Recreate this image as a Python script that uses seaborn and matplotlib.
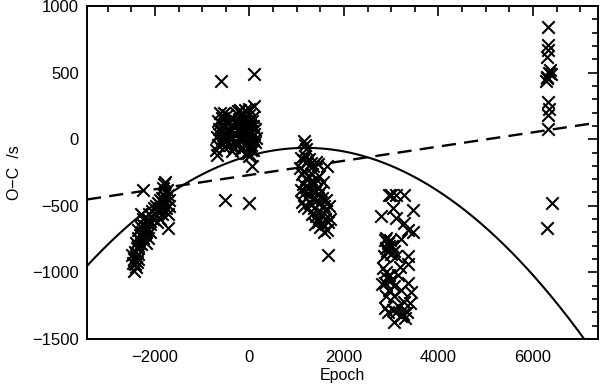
import numpy as np
import pandas as pd
import matplotlib
matplotlib.use("Agg")
import matplotlib.pyplot as plt
import seaborn as sns
from matplotlib.ticker import MultipleLocator

# ---- data ----
epoch_g1 = [-2440, -2420, -2450, -2400, -2380, -2430, -2360, -2390, -2350, -2410, -2330, -2370,
            -2300, -2320, -2280, -2350, -2260, -2300, -2240, -2270, -2220, -2200, -2250, -2180,
            -2160, -2300, -2140, -2120, -2100, -2080, -2060, -2040, -2020, -2000, -1980, -1960,
            -1940, -1920, -1900, -1880, -1860, -1840, -1820, -1800, -1780, -1760, -1740, -1720,
            -1800, -1780, -1700, -1700, -1720, -1730, -2260, -1840, -2400, -2350, -2200, -2150,
            -2100, -1960, -1900, -1850, -1760, -2480, -2460]
oc_g1 = [-990, -940, -900, -880, -920, -850, -860, -820, -800, -780, -760, -740,
         -790, -720, -700, -680, -740, -660, -680, -640, -700, -650, -600, -620,
         -680, -560, -600, -560, -640, -580, -540, -600, -520, -560, -500, -540,
         -480, -520, -460, -500, -440, -480, -420, -460, -400, -440, -380, -420,
         -340, -320, -460, -500, -560, -670, -385, -370, -960, -900, -780, -740,
         -700, -620, -600, -560, -520, -870, -930]

epoch_g2 = [-700, -680, -660, -650, -640, -620, -610, -600, -590, -580, -560, -550, -540, -520,
            -510, -500, -480, -470, -450, -440, -420, -400, -390, -370, -350, -330, -310, -300,
            -280, -260, -240, -220, -200, -190, -170, -160, -140, -130, -120, -110, -100, -90,
            -80, -70, -60, -50, -40, -30, -20, -10, 0, 10, 20, 30, 40, 50, 60, 70, 80, 90, 100,
            110, 120, -630, -250, -200, -20,
            -690, -660, -560, -430, -380, -300, -230, -150, -90, -40, 0, 40, 80, 130, -20, -120,
            -600, 100, -510, 0, 60]
oc_g2 = [-80, 20, -40, 80, 40, 120, -20, 60, 160, 0, 100, -60, 200, 40,
         140, -10, 80, 180, 20, 120, -40, 60, 160, 0, 100, -60, 40, 140,
         200, -20, 80, 20, 120, -80, 60, 180, 0, 100, -40, 160, 40, 220,
         -100, 80, 140, -20, 40, 120, -60, 180, 0, 100, -120, 60, -40, 140, 20, -80, 100, 250, 40,
         -20, 80, 200, 210, 220, -130,
         -120, 140, 30, 60, -90, -30, 150, -60, 20, -100, 60, -80, 170, 10, 230, 130,
         440, 490, -460, -480, -200]

epoch_g3 = [1160, 1180, 1200, 1100, 1140, 1180, 1220, 1260, 1300, 1350, 1400, 1440, 1650, 1080,
            1120, 1160, 1200, 1240, 1280, 1320, 1360, 1400, 1440, 1480, 1520, 1560, 1100, 1140,
            1180, 1220, 1260, 1300, 1340, 1380, 1420, 1460, 1500, 1540, 1580, 1620, 1690, 1120,
            1160, 1200, 1240, 1280, 1320, 1360, 1400, 1440, 1480, 1520, 1560, 1600, 1640, 1500,
            1440, 1380, 1580, 1660, 1660, 1620, 1700]
oc_g3 = [-10, -40, -70, -140, -160, -130, -170, -150, -180, -200, -170, -190, -200, -220,
         -260, -240, -300, -280, -320, -260, -340, -300, -360, -280, -390, -320, -380, -340,
         -400, -360, -420, -380, -440, -400, -460, -420, -480, -440, -500, -460, -500, -470,
         -500, -440, -520, -480, -560, -520, -580, -540, -600, -560, -640, -600, -680, -660,
         -620, -640, -700, -620, -870, -540, -600]

epoch_g4 = [2960, 3000, 3100, 3280, 2790, 3030, 3460, 3100, 3280, 3350, 3460, 3210, 2860, 2900,
            2940, 2980, 3020, 2880, 2920, 2960, 3000, 2840, 3060, 3100, 3350, 3350, 2820, 2880,
            2920, 2960, 3000, 2860, 3140, 3350, 3210, 3420, 2960, 3280, 3390, 2860, 3030, 3100,
            3250, 2930, 3070, 3210, 3300, 3150, 3050, 2900, 3180, 2800, 3060, 3330]
oc_g4 = [-420, -420, -420, -420, -580, -520, -530, -590, -630, -680, -700, -750, -760, -740,
         -780, -760, -800, -820, -840, -800, -860, -880, -840, -880, -880, -940, -970, -1000,
         -1040, -1020, -1060, -1080, -1020, -1080, -1130, -1150, -1130, -1220, -1230, -1270, -1280, -1300,
         -1310, -1300, -1370, -1330, -1340, -1250, -1180, -1180, -960, -1090, -1100, -1300]

epoch_g5 = [6330, 6310, 6320, 6290, 6360, 6300, 6380, 6270, 6320, 6340, 6310, 6330, 6400, 6290,
            6350, 6300]
oc_g5 = [840, 710, 670, 620, 520, 470, 490, 440, 280, 230, 180, 80, -480, -670, 500, 460]

# fitted models: quadratic (solid) and linear (dashed) ephemeris coefficients
quad_coeffs = [-4.13e-5, 0.0985, -124.0]
lin_coeffs = [0.0534, -269.0]

x_ticks = [-2000, 0, 2000, 4000, 6000]
y_ticks = [-1500, -1000, -500, 0, 500, 1000]
xlabel = "Epoch"
ylabel = "O\u2212C  /s"

# ---- build frame ----
df = pd.DataFrame({
    "Epoch": epoch_g1 + epoch_g2 + epoch_g3 + epoch_g4 + epoch_g5,
    "OC": oc_g1 + oc_g2 + oc_g3 + oc_g4 + oc_g5,
})

sns.set_theme(style="white")
plt.rcParams['font.family'] = ['Liberation Sans', 'DejaVu Sans']

fig = plt.figure(figsize=(6.0, 3.86), dpi=100)
ax = fig.add_axes([0.145, 0.1218, 0.851, 0.8627])

xlim = (-3440, 7370)
ylim = (-1500, 1000)

sns.scatterplot(data=df, x="Epoch", y="OC", marker="x", color="black",
                s=80, linewidth=1.5, ax=ax, zorder=3)

xs = np.linspace(xlim[0], xlim[1], 400)
quad = pd.DataFrame({"Epoch": xs, "OC": np.polyval(quad_coeffs, xs)})
lin = pd.DataFrame({"Epoch": xs, "OC": np.polyval(lin_coeffs, xs)})
sns.lineplot(data=quad, x="Epoch", y="OC", color="black", linewidth=1.5, ax=ax)
sns.lineplot(data=lin, x="Epoch", y="OC", color="black", linewidth=1.7,
             dashes=False, ax=ax, linestyle=(0, (6, 3.5)))

ax.set_xlim(*xlim)
ax.set_ylim(*ylim)
ax.set_xticks(x_ticks)
ax.set_yticks(y_ticks)
ax.xaxis.set_minor_locator(MultipleLocator(500))
ax.yaxis.set_minor_locator(MultipleLocator(100))
ax.tick_params(which="both", direction="in", top=True, right=True, color="black",
               labelsize=12, labelcolor="black")
ax.tick_params(which="major", length=7, width=1.2, pad=8)
ax.tick_params(which="minor", length=4, width=1.2)
ax.tick_params(axis="y", which="major", pad=6)
for sp in ax.spines.values():
    sp.set_color("black")
    sp.set_linewidth(1.4)

ax.set_xlabel(xlabel, fontsize=11.5, color="black", labelpad=2)
ax.set_ylabel(ylabel, fontsize=11.5, color="black", labelpad=7)

fig.savefig("out.png", dpi=100, facecolor="white")
